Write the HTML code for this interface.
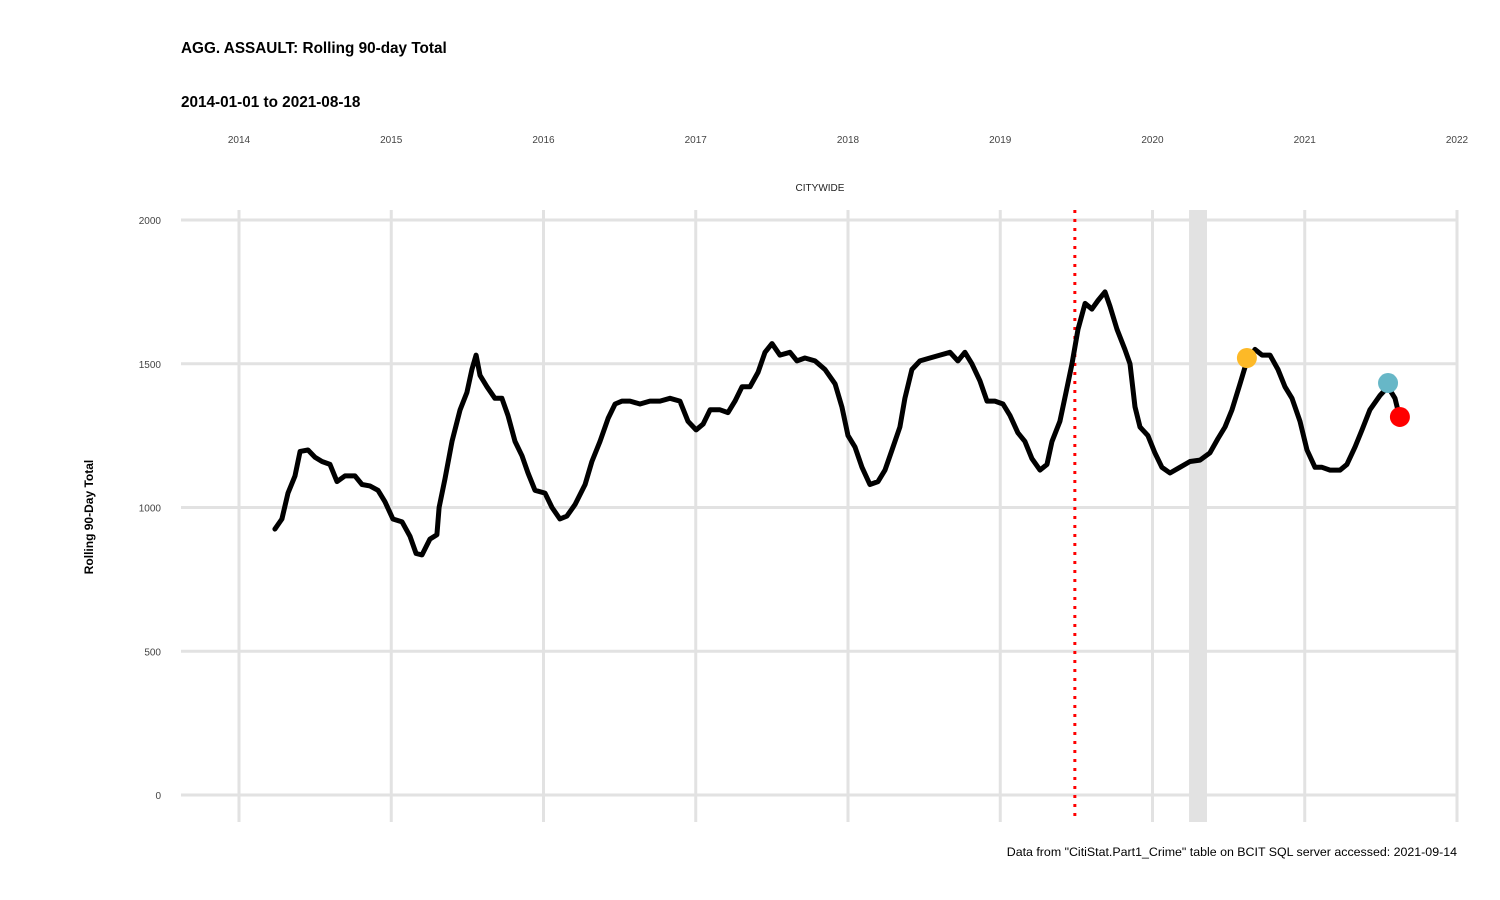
<!DOCTYPE html>
<html><head><meta charset="utf-8">
<style>
body{margin:0;background:#fff;font-family:"Liberation Sans",sans-serif;}
svg{display:block}
</style></head>
<body>
<svg id="chart" width="1500" height="900">
<text x="181" y="53" font-size="15.3" font-weight="bold" fill="#000">AGG. ASSAULT: Rolling 90-day Total</text>
<text x="181" y="107" font-size="15.3" font-weight="bold" fill="#000">2014-01-01 to 2021-08-18</text>
<text x="820" y="191" font-size="10" text-anchor="middle" fill="#222">CITYWIDE</text>
<text transform="translate(93,517) rotate(-90)" font-size="12" font-weight="bold" text-anchor="middle" fill="#000">Rolling 90-Day Total</text>
<text x="1457" y="856" font-size="12.4" text-anchor="end" fill="#000">Data from "CitiStat.Part1_Crime" table on BCIT SQL server accessed: 2021-09-14</text>
<g id="grid"></g><g id="marks"></g><g id="labels"></g>
</svg>
<script>
const yearTicks=[2014,2015,2016,2017,2018,2019,2020,2021,2022];
const valueTicks=[0,500,1000,1500,2000];
const dates=[0.236,0.282,0.322,0.368,0.401,0.453,0.499,0.545,0.598,0.644,0.696,0.762,0.808,0.860,0.913,0.959,1.011,1.071,1.123,1.163,1.202,1.254,1.300,1.314,1.353,1.399,1.452,1.497,1.530,1.557,1.583,1.629,1.681,1.727,1.767,1.813,1.859,1.898,1.944,2.010,2.056,2.108,2.154,2.207,2.273,2.318,2.371,2.424,2.470,2.516,2.568,2.634,2.699,2.765,2.831,2.896,2.949,3.002,3.048,3.094,3.159,3.212,3.258,3.304,3.356,3.409,3.455,3.501,3.553,3.619,3.665,3.717,3.783,3.849,3.915,3.960,4.000,4.046,4.092,4.144,4.197,4.243,4.289,4.341,4.374,4.420,4.473,4.538,4.604,4.670,4.722,4.768,4.814,4.867,4.913,4.965,5.018,5.064,5.116,5.162,5.208,5.261,5.307,5.340,5.392,5.432,5.471,5.511,5.557,5.602,5.642,5.688,5.721,5.767,5.819,5.852,5.885,5.918,5.970,6.016,6.062,6.115,6.180,6.246,6.312,6.377,6.430,6.476,6.522,6.575,6.620,6.673,6.719,6.772,6.824,6.870,6.916,6.969,7.015,7.067,7.113,7.166,7.232,7.277,7.330,7.376,7.428,7.494,7.547,7.593,7.625];
const totals=[925,960,1050,1110,1195,1200,1175,1160,1150,1090,1110,1110,1080,1075,1060,1020,960,950,900,840,835,890,905,1000,1100,1230,1340,1400,1480,1530,1460,1420,1380,1380,1320,1230,1180,1120,1060,1050,1000,960,970,1010,1080,1160,1230,1310,1360,1370,1370,1360,1370,1370,1380,1370,1300,1270,1290,1340,1340,1330,1370,1420,1420,1470,1540,1570,1530,1540,1510,1520,1510,1480,1430,1350,1250,1210,1140,1080,1090,1130,1200,1280,1380,1480,1510,1520,1530,1540,1510,1540,1500,1440,1370,1370,1360,1320,1260,1230,1170,1130,1150,1230,1300,1400,1500,1620,1710,1690,1720,1750,1700,1620,1550,1500,1350,1280,1250,1190,1140,1120,1140,1160,1165,1190,1240,1280,1340,1430,1510,1550,1530,1530,1480,1420,1380,1300,1200,1140,1140,1130,1130,1150,1210,1270,1340,1390,1420,1380,1310];
const markerDates=[6.620,7.547,7.625];
const markerValues=[1520,1433,1315];
const markerColors=["#FDB927","#67B7C7","#FF0000"];
const eventDate=5.490;
const bandDates=[6.240,6.358];

const X=d=>239+(d)*152.25;
const Y=v=>795-v*0.2875;
const NS="http://www.w3.org/2000/svg";
function mk(p,tag,a){const e=document.createElementNS(NS,tag);for(const k in a)e.setAttribute(k,a[k]);document.getElementById(p).appendChild(e);return e;}

valueTicks.forEach(v=>{
  const l=mk('grid','line',{x1:181,x2:1457,y1:Y(v),y2:Y(v),stroke:'#e2e2e2','stroke-width':3});
  
  
  const t=mk('labels','text',{x:161,y:Y(v)+4,'font-size':10,'text-anchor':'end',fill:'#444'});
  t.textContent=v;
  
  
});
yearTicks.forEach(y=>{
  const l=mk('grid','line',{x1:X(y-2014),x2:X(y-2014),y1:210,y2:822,stroke:'#e2e2e2','stroke-width':3});
  
  
  const t=mk('labels','text',{x:X(y-2014),y:143,'font-size':10,'text-anchor':'middle',fill:'#444'});
  t.textContent=y;
  
  
});
const band=mk('marks','rect',{x:X(bandDates[0]),y:210,width:X(bandDates[1])-X(bandDates[0]),height:612,fill:'#e2e2e2'});


const ev=mk('marks','line',{x1:X(eventDate),x2:X(eventDate),y1:210,y2:822,stroke:'#ff0000','stroke-width':3,'stroke-dasharray':'3,6'});


const pts=dates.map((d,i)=>X(d).toFixed(1)+','+Y(totals[i]).toFixed(1)).join(' ');
const line=mk('marks','polyline',{points:pts,fill:'none',stroke:'#000','stroke-width':5,'stroke-linejoin':'round','stroke-linecap':'round'});


markerDates.forEach((d,i)=>{
  const c=mk('marks','circle',{cx:X(d),cy:Y(markerValues[i]),r:10,fill:markerColors[i]});
  
  
});
</script>
</body></html>
